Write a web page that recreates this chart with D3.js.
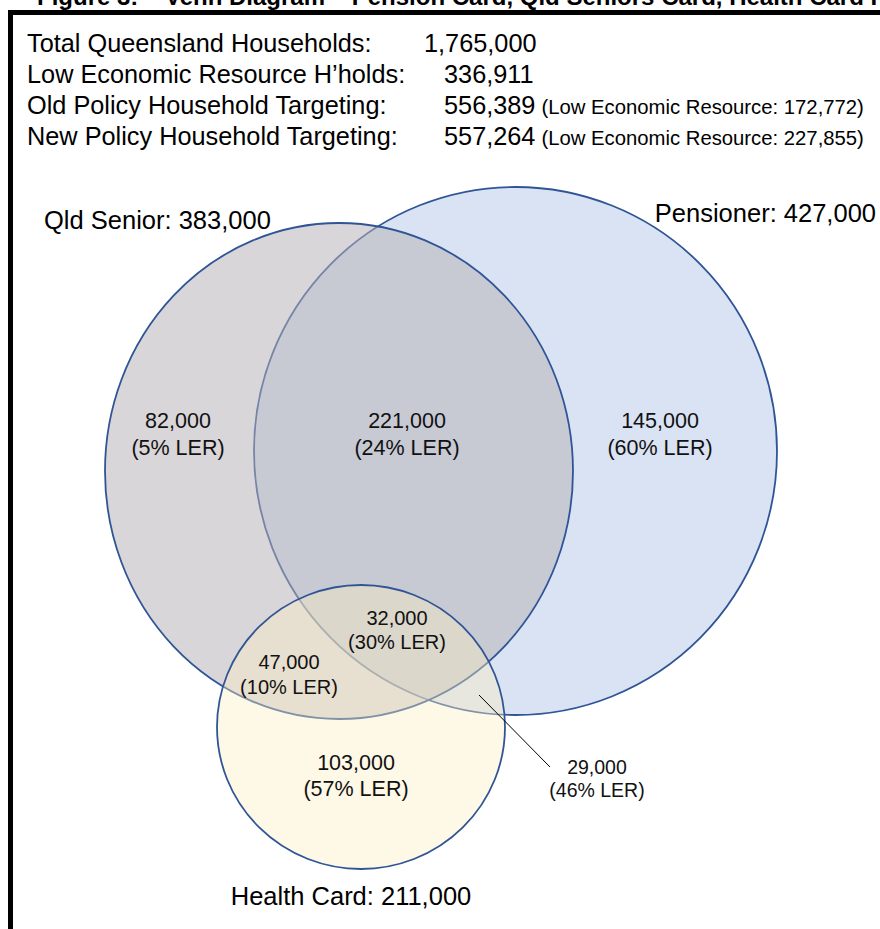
<!DOCTYPE html>
<html>
<head>
<meta charset="utf-8">
<script src="https://cdn.jsdelivr.net/npm/d3@7"></script>
<style>
  html, body { margin: 0; padding: 0; background: #fff; }
  svg { display: block; font-family: "Liberation Sans", Arial, sans-serif; }
</style>
</head>
<body>
<svg id="chart"></svg>
<script>
// Summary figures shown above the diagram
const summaryLabels = ["Total Queensland Households:", "Low Economic Resource H\u2019holds:", "Old Policy Household Targeting:", "New Policy Household Targeting:"];
const summaryValues = [1765000, 336911, 556389, 557264];
const summaryLER = [null, null, 172772, 227855];

// The three card sets
const setNames = ["Pensioner", "Qld Senior", "Health Card"];
const setTotals = [427000, 383000, 211000];

// Households in each region of the diagram, and share that is low economic resource
const regionNames = ["Qld Senior only", "Qld Senior + Pensioner", "Pensioner only", "Qld Senior + Health", "All three", "Pensioner + Health", "Health only"];
const regionCounts = [82000, 221000, 145000, 47000, 32000, 29000, 103000];
const regionLER = [5, 24, 60, 10, 30, 46, 57];

const width = 880, height = 929;
const fmt = d3.format(",");

const svg = d3.select("#chart")
  .attr("width", width)
  .attr("height", height);

// layout units -> pixels
const x = d3.scaleLinear().domain([0, 880]).range([0, width]);
const y = d3.scaleLinear().domain([0, 929]).range([0, height]);

// shape layout (drawn in this order: blue underneath, yellow on top)
const shapes = [
  {cx: 515.5, cy: 451, rx: 261.5, ry: 264, fill: "#dae3f3", op: 1,    lx: 876, ly: 222, anchor: "end"},
  {cx: 339,   cy: 471, rx: 234,   ry: 248, fill: "#b6b1b6", op: 0.52, lx: 44,  ly: 229, anchor: "start"},
  {cx: 361,   cy: 727, rx: 144,   ry: 142, fill: "#fcedc0", op: 0.4,  lx: 351, ly: 905, anchor: "middle"}
];

// label positions for each region
const regionPos = [
  {x: 178, y: 420, size: 21.5, gap: 27},
  {x: 407, y: 420, size: 21.5, gap: 27},
  {x: 660, y: 420, size: 21.5, gap: 27},
  {x: 289, y: 662, size: 20,   gap: 25},
  {x: 397, y: 618, size: 20,   gap: 24},
  {x: 597, y: 767, size: 19.5, gap: 23},
  {x: 356, y: 762, size: 21.5, gap: 26}
];

// frame (runs off the right and bottom edges)
svg.append("rect")
  .attr("x", 10.5).attr("y", 12.5)
  .attr("width", 1000).attr("height", 1000)
  .attr("fill", "none")
  .attr("stroke", "#000")
  .attr("stroke-width", 5);

// title, mostly cut off at the top
const title = svg.append("g").attr("font-size", 24).attr("font-weight", "bold");
title.append("text").attr("x", 37).attr("y", 4.5).text("Figure 3:");
title.append("text").attr("x", 165).attr("y", 4.5)
  .text("Venn Diagram \u2013 Pension Card, Qld Seniors Card, Health Card Holders");

// summary block
const summary = svg.append("g").attr("font-size", 25.3);
summaryLabels.forEach((lab, i) => {
  const by = 52 + i * 31;
  summary.append("text").attr("x", 27).attr("y", by).text(lab);
  const t = summary.append("text").attr("x", i === 0 ? 424 : 444).attr("y", by);
  t.append("tspan").text(fmt(summaryValues[i]));
  if (summaryLER[i] != null) {
    t.append("tspan").attr("font-size", 20.3).attr("dx", 6)
      .text("(Low Economic Resource: " + fmt(summaryLER[i]) + ")");
  }
});

// ellipses
const g = svg.append("g");
g.selectAll("ellipse")
  .data(shapes)
  .join("ellipse")
  .attr("cx", d => x(d.cx))
  .attr("cy", d => y(d.cy))
  .attr("rx", d => x(d.rx) - x(0))
  .attr("ry", d => y(d.ry) - y(0))
  .attr("fill", d => d.fill)
  .attr("fill-opacity", d => d.op)
  .attr("stroke", "#2f5597")
  .attr("stroke-width", 1.8);

// set labels
svg.append("g").attr("font-size", 25.5)
  .selectAll("text")
  .data(shapes)
  .join("text")
  .attr("x", d => x(d.lx))
  .attr("y", d => y(d.ly))
  .attr("text-anchor", d => d.anchor)
  .text((d, i) => setNames[i] + ": " + fmt(setTotals[i]));

// leader line for the small Pensioner + Health region
svg.append("line")
  .attr("x1", x(479)).attr("y1", y(695))
  .attr("x2", x(550)).attr("y2", y(767))
  .attr("stroke", "#000")
  .attr("stroke-width", 1);

// region labels
const rl = svg.append("g").attr("text-anchor", "middle").attr("fill", "#111");
regionCounts.forEach((v, i) => {
  const p = regionPos[i];
  const t = rl.append("text").attr("font-size", p.size);
  t.append("tspan").attr("x", x(p.x)).attr("y", y(p.y) + p.size * 0.36).text(fmt(v));
  t.append("tspan").attr("x", x(p.x)).attr("y", y(p.y + p.gap) + p.size * 0.36).text("(" + regionLER[i] + "% LER)");
});
</script>
</body>
</html>
